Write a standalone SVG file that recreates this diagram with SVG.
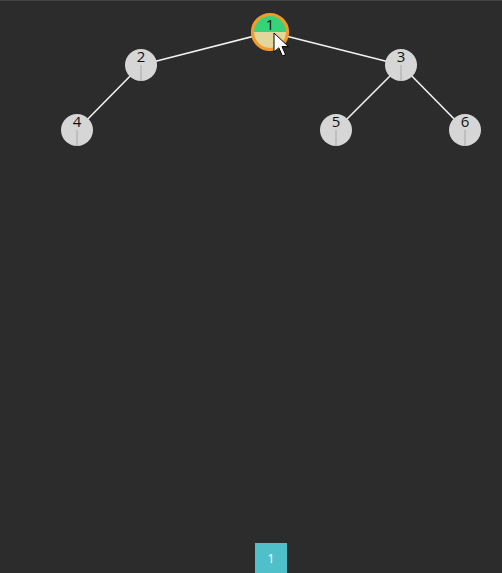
<svg xmlns="http://www.w3.org/2000/svg" width="502" height="573" viewBox="0 0 502 573">
<defs>
<style>
.edge{stroke:#f2f2f2;stroke-width:1.6;fill:none}
.node{fill:#d6d6d6}
.stem{stroke:#a8a8a8;stroke-width:1}
.lbl{font-family:"Open Sans","Noto Sans",sans-serif;font-size:15px;fill:#111;text-anchor:middle}
</style>
<clipPath id="c1"><circle cx="270" cy="32" r="17"/></clipPath>
</defs>
<rect x="0" y="0" width="502" height="573" fill="#2d2c2d"/>
<rect x="0" y="0" width="502" height="1" fill="#444"/>
<g id="connectors">
<line class="edge" x1="270" y1="32" x2="141" y2="65"/>
<line class="edge" x1="270" y1="32" x2="401" y2="65"/>
<line class="edge" x1="141" y1="65" x2="77" y2="130"/>
<line class="edge" x1="401" y1="65" x2="336" y2="130"/>
<line class="edge" x1="401" y1="65" x2="465" y2="130"/>
</g>
<g id="node1">
<g clip-path="url(#c1)">
<rect x="250" y="12" width="40" height="20" fill="#37d378"/>
<rect x="250" y="32" width="40" height="20" fill="#e3d69c"/>
</g>
<circle cx="270" cy="32" r="17.5" fill="none" stroke="#f39a2c" stroke-width="3.2"/>
<text class="lbl" x="270" y="30">1</text>
</g>
<g id="node2">
<circle class="node" cx="141" cy="65" r="16"/>
<line class="stem" x1="141" y1="65" x2="141" y2="81"/>
<text class="lbl" x="141" y="62">2</text>
</g>
<g id="node3">
<circle class="node" cx="401" cy="65" r="16"/>
<line class="stem" x1="401" y1="65" x2="401" y2="81"/>
<text class="lbl" x="401" y="62">3</text>
</g>
<g id="node4">
<circle class="node" cx="77" cy="130" r="16"/>
<line class="stem" x1="77" y1="130" x2="77" y2="146"/>
<text class="lbl" x="77" y="127">4</text>
</g>
<g id="node5">
<circle class="node" cx="336" cy="130" r="16"/>
<line class="stem" x1="336" y1="130" x2="336" y2="146"/>
<text class="lbl" x="336" y="127">5</text>
</g>
<g id="node6">
<circle class="node" cx="465" cy="130" r="16"/>
<line class="stem" x1="465" y1="130" x2="465" y2="146"/>
<text class="lbl" x="465" y="127">6</text>
</g>
<g id="cursor">
<polygon points="274,33 274,52 278.8,47.8 282.4,56 285.6,54.6 282,46.6 288.5,46.6" fill="#fff" stroke="#000" stroke-width="1" stroke-linejoin="round"/>
</g>
<g id="pager">
<rect x="255" y="543" width="32" height="30" fill="#4fc0c9"/>
<text x="271" y="563" font-family="'Open Sans','Noto Sans',sans-serif" font-size="13" fill="#fff" text-anchor="middle">1</text>
</g>
</svg>
